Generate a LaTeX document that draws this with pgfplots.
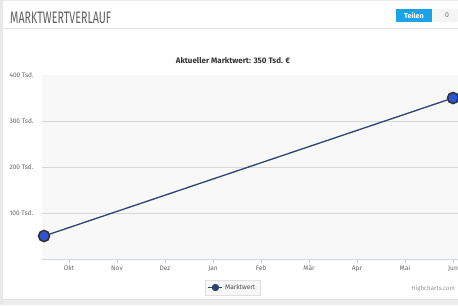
\documentclass[border=0pt]{standalone}
\usepackage{fontspec}
\setmainfont{Fira Sans}
\usepackage{graphicx}
\usepackage{pgfplots}
\pgfplotsset{compat=1.18}
\definecolor{plotbg}{HTML}{F8F8F8}
\definecolor{gridc}{HTML}{D6D6D6}
\definecolor{axisc}{HTML}{CCD6EB}
\definecolor{labc}{HTML}{666666}
\definecolor{linec}{HTML}{2B4470}
\definecolor{markc}{HTML}{2E54D6}
\definecolor{tmblue}{HTML}{1AA3E6}
\begin{document}
\begin{tikzpicture}[x=1bp,y=1bp]
\path[use as bounding box, clip] (0,0) rectangle (458,305);
\fill[white] (0,0) rectangle (458,305);
% frame elements
\fill[black!9] (0,0) rectangle (3,305);
\fill[black!7] (3,0) rectangle (458,5);
\draw[black!12, line width=0.8bp] (3,5.5) -- (458,5.5);
\draw[black!12, line width=0.8bp] (3,277) -- (458,277);
\draw[black!8, line width=0.8bp] (3,304.5) -- (458,304.5);
\node[anchor=west, text=black!62, inner sep=0pt] at (10,286.7) {\resizebox{101bp}{11.5bp}{\fontsize{16}{17}\selectfont MARKTWERTVERLAUF}};
\fill[tmblue] (396,283) rectangle (432,296);
\node[text=white, font=\bfseries\fontsize{7.2}{8}\selectfont, inner sep=0pt] at (414,289.5) {Teilen};
\fill[black!4] (432,283) rectangle (458,296);
\node[text=black!55, font=\fontsize{7}{8}\selectfont, inner sep=0pt] at (447,289.5) {0};
\node[text=black!80, font=\bfseries\fontsize{8}{9}\selectfont, inner sep=0pt] at (233,244) {Aktueller Marktwert: 350 Tsd. €};
\node[anchor=east, text=black!40, font=\fontsize{6.2}{7}\selectfont, inner sep=0pt] at (455,16) {Highcharts.com};
\begin{axis}[
  at={(42bp,46bp)}, anchor=south west,
  scale only axis, width=416bp, height=184bp,
  xmin=0.4375, xmax=9.104, ymin=0, ymax=400,
  axis background/.style={fill=plotbg},
  separate axis lines,
  axis x line*=bottom, axis y line*=left,
  x axis line style={draw=axisc, line width=0.8bp},
  y axis line style={draw=none},
  xtick={1,2,3,4,5,6,7,8,9},
  xticklabels={Okt,Nov,Dez,Jan,Feb,Mär,Apr,Mai,Jun},
  xtick style={draw=axisc, line width=0.7bp},
  x tick label style={text=labc, font=\fontsize{6.6}{7}\selectfont, yshift=1bp},
  tick align=outside, major tick length=4bp,
  ytick={100,200,300},
  yticklabels={100 Tsd.,200 Tsd.,300 Tsd.},
  extra y ticks={400}, extra y tick labels={400 Tsd.},
  extra y tick style={grid=none},
  ytick style={draw=none},
  y tick label style={anchor=west, xshift=-32bp, text=labc, font=\fontsize{6.6}{7}\selectfont},
  ymajorgrids, grid style={draw=gridc, line width=0.8bp},
  clip=false,
  legend style={at={(0.458,-0.155)}, anchor=center, draw=black!12, fill=black!3,
    font=\fontsize{6.6}{7}\selectfont, text=black!70, inner sep=2.5bp, legend cell align=left},
  legend image code/.code={
    \draw[linec, line width=1.4bp] (0bp,0bp) -- (14bp,0bp);
    \fill[linec] (7bp,0bp) circle (3bp);
  },
]
\addplot[linec, line width=1.3bp, mark=*, mark size=5.5bp,
  mark options={fill=markc, draw=black!80, line width=1.6bp}]
  coordinates {(0.48,50) (9,350)};
\addlegendentry{Marktwert}
\end{axis}
\end{tikzpicture}
\end{document}
